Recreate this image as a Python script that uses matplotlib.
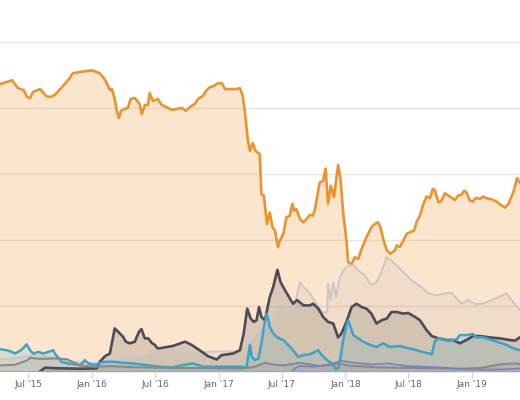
import matplotlib
matplotlib.use('Agg')
import matplotlib.pyplot as plt
import pandas as pd

# market share (%)
btc_dates = ['2015-04-11', '2015-05-16', '2015-06-02', '2015-06-19', '2015-06-28', '2015-07-07',
             '2015-07-15', '2015-08-04', '2015-08-13', '2015-08-22', '2015-09-02', '2015-09-16',
             '2015-10-07', '2015-10-18', '2015-10-30', '2015-11-07', '2015-11-22', '2015-12-12',
             '2016-01-01', '2016-01-10', '2016-01-24', '2016-02-05', '2016-02-16', '2016-02-22',
             '2016-02-28', '2016-03-07', '2016-03-13', '2016-03-19', '2016-03-25', '2016-04-05',
             '2016-04-14', '2016-04-22', '2016-05-04', '2016-05-18', '2016-05-24', '2016-06-02',
             '2016-06-11', '2016-06-16', '2016-06-25', '2016-07-09', '2016-07-21', '2016-08-07',
             '2016-08-19', '2016-09-17', '2016-09-28', '2016-10-10', '2016-10-24', '2016-11-02',
             '2016-11-16', '2016-11-25', '2016-12-06', '2016-12-17', '2016-12-29', '2017-01-10',
             '2017-01-19', '2017-02-02', '2017-02-19', '2017-03-03', '2017-03-11', '2017-03-17',
             '2017-03-26', '2017-04-01', '2017-04-09', '2017-04-17', '2017-04-29', '2017-05-04',
             '2017-05-11', '2017-05-20', '2017-05-28', '2017-06-05', '2017-06-12', '2017-06-21',
             '2017-06-26', '2017-07-06', '2017-07-15', '2017-07-25', '2017-08-01', '2017-08-07',
             '2017-08-13', '2017-08-23', '2017-09-02', '2017-09-11', '2017-09-21', '2017-09-29',
             '2017-10-05', '2017-10-19', '2017-10-29', '2017-11-05', '2017-11-12', '2017-11-20',
             '2017-11-29', '2017-12-11', '2017-12-18', '2017-12-26', '2018-01-04', '2018-01-09',
             '2018-01-19', '2018-01-28', '2018-02-07', '2018-02-17', '2018-03-03', '2018-03-17',
             '2018-03-27', '2018-04-05', '2018-04-12', '2018-04-20', '2018-04-30', '2018-05-11',
             '2018-05-24', '2018-05-29', '2018-06-07', '2018-06-17', '2018-06-27', '2018-07-06',
             '2018-07-18', '2018-07-25', '2018-08-04', '2018-08-14', '2018-08-23', '2018-09-02',
             '2018-09-10', '2018-09-16', '2018-09-26', '2018-10-05', '2018-10-15', '2018-10-29',
             '2018-11-13', '2018-11-22', '2018-12-02', '2018-12-09', '2018-12-16', '2018-12-26',
             '2019-01-04', '2019-01-12', '2019-01-24', '2019-02-02', '2019-02-12', '2019-02-26',
             '2019-03-13', '2019-03-27', '2019-04-06', '2019-04-16', '2019-04-30', '2019-05-11',
             '2019-05-19', '2019-05-25']
btc_vals = [87.3, 88.5, 86.1, 85.5, 83.4, 83.1,
            84.9, 85.8, 84.9, 83.7, 83.4, 84.0,
            86.4, 87.7, 89.2, 90.6, 90.9, 91.2,
            91.5, 91.2, 90.6, 89.1, 87.0, 85.5,
            85.8, 82.8, 79.2, 77.0, 79.2, 79.8,
            80.1, 82.8, 83.1, 81.3, 78.2, 81.0,
            81.0, 84.6, 82.2, 82.8, 81.0, 80.1,
            79.5, 80.1, 79.2, 80.4, 81.3, 82.8,
            83.7, 85.2, 86.4, 86.7, 87.6, 87.6,
            85.8, 85.8, 85.8, 86.1, 83.7, 79.2,
            70.1, 67.1, 69.5, 67.0, 66.1, 53.9,
            53.5, 44.9, 48.4, 43.9, 42.9, 37.9,
            39.9, 41.9, 46.9, 47.4, 51.0, 48.9,
            49.4, 46.4, 45.4, 46.4, 47.7, 47.4,
            49.2, 57.5, 58.0, 61.7, 51.0, 56.5,
            53.0, 62.8, 58.5, 47.9, 39.9, 33.3,
            32.8, 34.8, 34.3, 37.4, 40.9, 43.9,
            44.9, 45.4, 43.9, 40.4, 36.9, 35.9,
            36.9, 38.4, 37.9, 39.9, 41.9, 42.4,
            42.9, 45.4, 47.4, 51.0, 53.2, 52.8,
            55.5, 55.2, 51.5, 51.9, 54.2, 53.2,
            52.2, 53.5, 53.8, 55.0, 54.5, 52.0,
            51.7, 52.8, 52.5, 53.2, 52.7, 52.4,
            51.7, 50.5, 49.9, 51.0, 54.5, 58.8,
            57.5, 57.0]

eth_dates = ['2015-08-04', '2015-08-19', '2015-10-01', '2015-11-28', '2016-01-15', '2016-01-24',
             '2016-02-08', '2016-02-22', '2016-03-07', '2016-03-17', '2016-03-31', '2016-04-08',
             '2016-04-20', '2016-05-04', '2016-05-16', '2016-05-23', '2016-06-02', '2016-06-12',
             '2016-06-21', '2016-07-01', '2016-07-08', '2016-07-15', '2016-08-22', '2016-09-26',
             '2016-10-15', '2016-11-07', '2016-12-01', '2016-12-26', '2017-01-09', '2017-02-11',
             '2017-03-03', '2017-03-14', '2017-03-24', '2017-04-03', '2017-04-12', '2017-04-20',
             '2017-04-27', '2017-05-04', '2017-05-14', '2017-05-28', '2017-06-07', '2017-06-19',
             '2017-06-28', '2017-07-11', '2017-07-25', '2017-08-03', '2017-08-15', '2017-09-02',
             '2017-09-21', '2017-09-30', '2017-10-15', '2017-10-29', '2017-11-12', '2017-11-27',
             '2017-12-11', '2017-12-21', '2018-01-04', '2018-01-19', '2018-02-02', '2018-02-17',
             '2018-03-03', '2018-03-17', '2018-04-01', '2018-04-15', '2018-04-30', '2018-05-14',
             '2018-05-29', '2018-06-17', '2018-07-01', '2018-07-21', '2018-08-04', '2018-08-23',
             '2018-09-07', '2018-09-26', '2018-10-20', '2018-11-08', '2018-11-27', '2018-12-16',
             '2019-01-04', '2019-01-24', '2019-02-21', '2019-03-22', '2019-04-20', '2019-05-05',
             '2019-05-19', '2019-05-25']
eth_vals = [0.1, 1.3, 1.1, 1.0, 1.1, 3.1,
            4.8, 5.6, 13.2, 12.2, 10.7, 9.2,
            8.7, 9.2, 12.2, 13.0, 10.2, 10.2,
            8.9, 8.2, 7.2, 7.2, 7.9, 9.2,
            8.2, 6.6, 4.8, 3.8, 5.1, 5.6,
            6.6, 11.7, 19.2, 16.2, 15.2, 15.7,
            19.7, 16.7, 15.7, 22.7, 25.8, 31.0,
            27.3, 24.8, 22.3, 20.7, 21.8, 20.2,
            20.2, 20.7, 19.2, 16.7, 15.2, 14.7,
            10.5, 11.7, 15.2, 19.7, 20.7, 19.7,
            19.2, 17.7, 14.7, 15.7, 16.2, 18.2,
            18.2, 17.7, 17.9, 16.7, 15.7, 12.7,
            10.9, 10.2, 9.7, 9.7, 8.7, 9.7,
            10.9, 10.9, 10.5, 10.2, 9.7, 9.5,
            10.5, 10.3]

xrp_dates = ['2015-04-11', '2015-05-01', '2015-05-15', '2015-05-25', '2015-06-08', '2015-06-17',
             '2015-06-27', '2015-07-07', '2015-07-16', '2015-07-31', '2015-08-14', '2015-08-29',
             '2015-09-12', '2015-09-16', '2015-09-26', '2015-10-06', '2015-10-25', '2015-11-28',
             '2015-12-12', '2015-12-22', '2016-01-10', '2016-02-03', '2016-03-03', '2016-03-31',
             '2016-04-29', '2016-06-07', '2016-07-15', '2016-08-22', '2016-09-19', '2016-10-19',
             '2016-11-16', '2016-12-15', '2017-03-03', '2017-03-22', '2017-04-01', '2017-04-06',
             '2017-04-15', '2017-04-25', '2017-05-04', '2017-05-11', '2017-05-19', '2017-05-23',
             '2017-05-28', '2017-06-07', '2017-06-17', '2017-06-26', '2017-07-06', '2017-07-20',
             '2017-08-03', '2017-08-18', '2017-09-02', '2017-09-21', '2017-10-05', '2017-10-15',
             '2017-10-25', '2017-11-09', '2017-11-23', '2017-12-05', '2017-12-14', '2017-12-24',
             '2018-01-03', '2018-01-09', '2018-01-16', '2018-01-24', '2018-02-07', '2018-02-21',
             '2018-03-13', '2018-04-01', '2018-04-20', '2018-05-09', '2018-06-07', '2018-06-27',
             '2018-07-16', '2018-08-04', '2018-08-23', '2018-09-07', '2018-09-16', '2018-09-26',
             '2018-10-11', '2018-10-29', '2018-11-18', '2018-11-27', '2018-12-16', '2019-01-04',
             '2019-01-14', '2019-02-02', '2019-02-21', '2019-03-13', '2019-04-11', '2019-04-30',
             '2019-05-19', '2019-05-25']
xrp_vals = [6.9, 6.6, 6.1, 5.6, 6.4, 7.2,
            8.4, 6.6, 5.6, 6.1, 5.6, 6.1,
            6.6, 5.6, 4.4, 3.1, 2.6, 2.1,
            3.6, 2.6, 2.1, 3.1, 3.1, 2.8,
            2.6, 2.1, 1.6, 1.4, 2.1, 2.6,
            1.6, 1.6, 1.6, 1.4, 8.2, 4.6,
            3.6, 4.1, 8.7, 13.7, 17.7, 16.2,
            13.7, 11.7, 10.7, 10.1, 9.7, 8.2,
            6.6, 4.6, 5.1, 5.4, 6.1, 6.6,
            5.1, 3.6, 2.6, 0.8, 1.6, 8.7,
            13.7, 15.7, 13.7, 11.2, 10.2, 9.2,
            8.2, 7.6, 8.7, 7.6, 7.9, 7.3,
            6.9, 6.3, 5.8, 5.4, 9.2, 10.2,
            9.7, 9.5, 9.9, 11.2, 11.2, 11.5,
            10.5, 10.5, 9.9, 9.2, 8.2, 7.2,
            6.6, 6.4]

other_dates = ['2015-04-11', '2015-06-08', '2015-07-16', '2015-08-24', '2015-10-01', '2015-11-08',
               '2015-12-17', '2016-01-24', '2016-02-22', '2016-03-31', '2016-05-18', '2016-06-26',
               '2016-07-15', '2016-08-27', '2016-10-10', '2016-12-06', '2017-01-19', '2017-02-21',
               '2017-03-22', '2017-04-10', '2017-05-04', '2017-05-28', '2017-06-17', '2017-07-06',
               '2017-07-15', '2017-08-03', '2017-08-13', '2017-08-23', '2017-09-02', '2017-09-21',
               '2017-10-10', '2017-10-25', '2017-11-09', '2017-11-12', '2017-11-19', '2017-11-27',
               '2017-12-05', '2017-12-16', '2017-12-30', '2018-01-09', '2018-01-24', '2018-02-07',
               '2018-02-26', '2018-03-17', '2018-04-01', '2018-04-15', '2018-04-30', '2018-05-14',
               '2018-05-29', '2018-06-17', '2018-07-06', '2018-07-25', '2018-08-14', '2018-08-28',
               '2018-09-21', '2018-10-15', '2018-11-03', '2018-11-18', '2018-12-02', '2018-12-21',
               '2019-01-09', '2019-02-02', '2019-02-26', '2019-03-17', '2019-04-11', '2019-04-30',
               '2019-05-19', '2019-05-25']
other_vals = [3.8, 4.4, 5.1, 4.8, 4.1, 3.1,
              2.6, 2.8, 3.6, 4.1, 4.6, 5.6,
              6.6, 6.4, 6.0, 6.1, 6.3, 6.0,
              7.6, 10.2, 12.7, 15.7, 18.2, 19.2,
              17.7, 18.7, 22.7, 27.3, 25.8, 23.8,
              20.7, 18.2, 18.0, 26.8, 21.8, 27.3,
              22.7, 28.8, 31.3, 32.3, 32.3, 30.8,
              29.3, 26.3, 27.3, 30.3, 34.8, 33.8,
              32.3, 30.3, 28.3, 26.8, 25.3, 23.8,
              23.3, 23.8, 24.0, 22.3, 20.7, 21.8,
              20.7, 20.7, 21.8, 22.7, 23.8, 21.2,
              18.7, 18.2]

ltc_dates = ['2015-04-11', '2015-05-25', '2015-06-28', '2015-07-07', '2015-08-04', '2015-09-16',
             '2015-10-21', '2015-11-28', '2016-01-10', '2016-02-22', '2016-04-20', '2016-07-15',
             '2016-11-07', '2017-03-03', '2017-04-15', '2017-05-14', '2017-06-12', '2017-07-06',
             '2017-08-23', '2017-10-19', '2017-12-16', '2018-01-14', '2018-04-08', '2018-08-04',
             '2018-11-27', '2019-01-24', '2019-03-22', '2019-05-05', '2019-05-25']
ltc_vals = [2.0, 2.2, 3.5, 4.3, 4.0, 4.1,
            3.9, 2.0, 1.6, 1.8, 1.5, 1.3,
            1.2, 1.0, 1.6, 2.8, 2.2, 2.0,
            2.8, 1.8, 2.5, 1.9, 1.4, 1.2,
            1.0, 1.2, 2.3, 2.6, 2.4]

bch_dates = ['2017-08-01', '2017-08-20', '2017-10-01', '2017-11-12', '2017-12-20', '2018-01-20',
             '2018-03-15', '2018-05-01', '2018-07-01', '2018-10-01', '2018-12-01', '2019-02-01',
             '2019-04-01', '2019-05-25']
bch_vals = [0.5, 1.8, 1.6, 2.2, 3.4, 2.9,
            2.3, 2.6, 1.8, 1.4, 0.9, 0.7,
            0.8, 1.1]

tick_dates = ['2015-07-01', '2016-01-01', '2016-07-01', '2017-01-01',
              '2017-07-01', '2018-01-01', '2018-07-01', '2019-01-01']
tick_labels = ["Jul '15", "Jan '16", "Jul '16", "Jan '17",
               "Jul '17", "Jan '18", "Jul '18", "Jan '19"]


def area(ax, dates, vals, line_color, fill_color, fill_alpha, lw, z):
    d = pd.to_datetime(dates)
    ax.fill_between(d, vals, 0, color=fill_color, alpha=fill_alpha, lw=0, zorder=z)
    ax.plot(d, vals, color=line_color, lw=lw, zorder=z + 10, solid_joinstyle='round')


fig = plt.figure(figsize=(5.2, 4), dpi=100)
ax = fig.add_axes([0, 28 / 400, 1, 331 / 400])

area(ax, btc_dates, btc_vals, '#e8952f', '#f39a3a', 0.25, 1.9, 1)
area(ax, other_dates, other_vals, '#c8c8c8', '#9a9a9a', 0.10, 1.4, 2)
area(ax, eth_dates, eth_vals, '#4b4b5c', '#434348', 0.17, 1.9, 3)
area(ax, xrp_dates, xrp_vals, '#3aa5c8', '#2a9fc9', 0.13, 1.8, 4)
area(ax, ltc_dates, ltc_vals, '#8a8a8a', '#888888', 0.15, 1.5, 5)
area(ax, bch_dates, bch_vals, '#6f86c4', '#6f86c4', 0.10, 1.2, 6)

ax.axhline(0, color='#8ea2d8', lw=2, zorder=30)

ax.set_xlim(pd.Timestamp('2015-04-11 08:00'), pd.Timestamp('2019-05-19 10:00'))
ax.set_ylim(0, 100.4)
ax.set_yticks([20, 40, 60, 80, 100])
ax.yaxis.grid(True, color='#e6e6e6', lw=1)
ax.set_axisbelow(True)
ax.tick_params(axis='y', left=False, labelleft=False)
ax.set_xticks(pd.to_datetime(tick_dates))
ax.set_xticklabels(tick_labels)
ax.tick_params(axis='x', length=4, width=1, color='#ccd6eb', labelsize=6.5,
               labelcolor='#666666', pad=2)
for s in ax.spines.values():
    s.set_visible(False)

fig.savefig('out.png', dpi=100)
